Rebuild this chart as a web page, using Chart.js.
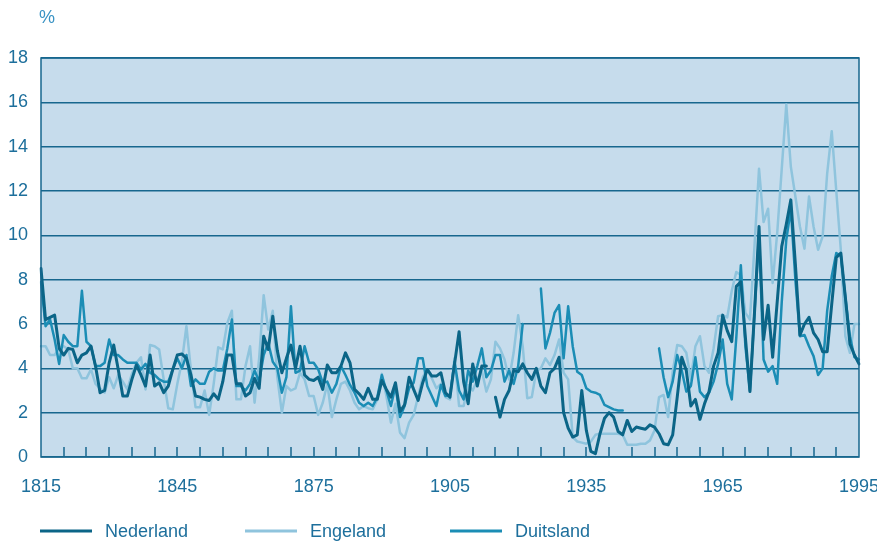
<!DOCTYPE html>
<html lang="nl">
<head>
  <meta charset="UTF-8">
  <title>Rente 1815-1995</title>
  <style>
    body {
      margin: 0;
      padding: 0;
      background: #ffffff;
    }
    #wrap {
      width: 877px;
      height: 542px;
    }
  </style>
</head>
<body>
  <div id="wrap">
    <canvas id="grafiek" width="877" height="542"></canvas>
  </div>

  <script src="https://cdn.jsdelivr.net/npm/chart.js"></script>
  <script>
    // jaren 1815 t/m 1995
    const jaren = [];
    for (let j = 1815; j <= 1995; j++) jaren.push(j);

    const yTicks = [0, 2, 4, 6, 8, 10, 12, 14, 16, 18];
    const xLabels = [1815, 1845, 1875, 1905, 1935, 1965, 1995];

    const nederland = [
      8.5, 6.2, 6.3, 6.4, 4.9, 4.6, 4.9, 4.85, 4.25, 4.6,
      4.7, 5.0, 4.1, 2.9, 3.0, 4.25, 5.05, 3.95, 2.75, 2.75,
      3.5, 4.15, 3.7, 3.2, 4.6, 3.2, 3.35, 2.9, 3.2, 3.95,
      4.6, 4.65, 4.45, 3.7, 2.75, 2.7, 2.6, 2.55, 2.85, 2.6,
      3.4, 4.6, 4.6, 3.3, 3.3, 2.75, 2.9, 3.55, 3.1, 5.45,
      4.85, 6.35, 4.8, 3.8, 4.45, 5.05, 4.0, 5.0, 3.7, 3.5,
      3.45, 3.6, 3.05, 4.15, 3.8, 3.8, 4.1, 4.7, 4.25, 3.05,
      2.85, 2.6, 3.1, 2.6, 2.6, 3.45, 3.05, 2.7, 3.35, 2.05,
      2.35, 3.6, 3.05, 2.55, 3.35, 3.95, 3.65, 3.65, 3.8, 2.9,
      2.7, 4.2, 5.65, 3.4, 2.4, 4.2, 3.2, 4.1, 4.1, null,
      2.7, 1.8, 2.6, 3.0, 3.9, 3.85, 4.2, 3.8, 3.5, 4.0,
      3.2, 2.9, 3.8, 4.0, 4.5, 2.0, 1.3, 0.9, 1.0, 3.0,
      1.2, 0.25, 0.15, 1.05, 1.75, 2.0, 1.8, 1.15, 1.0, 1.65,
      1.15, 1.35, 1.3, 1.25, 1.45, 1.35, 1.05, 0.6, 0.55, 1.0,
      2.7, 4.5, 3.9, 2.3, 2.6, 1.7, 2.4, 2.95, 4.1, 4.7,
      6.4, 5.7, 5.2, 7.7, 7.9, 5.4, 2.95, 6.5, 10.4, 5.3,
      6.85, 4.5, 7.0, 9.5, 10.5, 11.6, 8.7, 5.5, 6.0, 6.3,
      5.6, 5.3, 4.75, 4.75, 6.9, 9.0, 9.2, 7.2, 5.1, 4.6,
      4.2
    ];

    const engeland = [
      5.0, 5.0, 4.6, 4.6, 4.9, 5.0, 4.85, 4.0, 4.0, 3.55,
      3.55, 3.95, 3.3, 3.1, 2.9, 3.6, 3.1, 3.7, 3.4, 3.05,
      3.75, 4.25, 4.5, 3.05, 5.05, 5.0, 4.85, 3.5, 2.2, 2.15,
      3.3, 4.3, 5.9, 3.9, 2.25, 2.25, 3.0, 1.9, 3.3, 4.95,
      4.85, 6.05, 6.6, 2.6, 2.6, 4.1, 5.0, 2.45, 4.45, 7.3,
      5.75, 6.6, 3.6, 2.0, 3.2, 3.0, 3.1, 3.8, 3.5, 2.75,
      2.75, 1.9, 2.45, 3.3, 1.8, 2.6, 3.3, 3.4, 3.0, 2.45,
      2.15, 2.3, 2.2, 2.15, 2.6, 3.75, 2.75, 1.55, 2.4, 1.1,
      0.85, 1.55, 1.9, 2.75, 3.6, 3.95, 3.55, 3.1, 3.3, 2.7,
      2.6, 4.45, 2.3, 2.3, 3.25, 3.0, 3.5, 3.9, 2.95, 3.5,
      5.2, 4.9, 4.4, 3.5, 4.7, 6.4, 5.0, 2.65, 2.7, 3.9,
      4.0, 4.45, 4.15, 4.6, 5.3, 3.8, 3.5, 0.9, 0.7, 0.65,
      0.6, 0.7, 1.0, 1.05, 1.05, 1.05, 1.05, 1.05, 1.0, 0.55,
      0.55, 0.55, 0.6, 0.6, 0.75, 1.2, 2.7, 2.8, 1.8, 3.85,
      5.05, 5.0, 4.7, 3.5, 5.0, 5.45, 4.1, 3.8, 4.9, 6.35,
      6.4, 6.3, 7.5, 8.35, 8.2, 6.5, 6.2, 9.5, 13.0, 10.6,
      11.2, 7.85, 10.1, 13.0, 15.9, 13.1, 11.75, 10.4, 9.4, 11.75,
      10.4, 9.35, 9.95, 12.8, 14.7, 12.0, 9.35, 5.45, 4.7, 6.0,
      6.0
    ];

    const duitsland = [
      7.9, 5.9, 6.2, 5.3, 4.2, 5.5, 5.2, 5.0, 5.0, 7.5,
      5.2, 5.0, 4.1, 4.1, 4.25, 5.3, 4.6, 4.6, 4.4, 4.25,
      4.25, 4.25, 3.95, 4.2, 3.8, 3.7, 3.5, 3.4, 3.4, 3.95,
      4.45, 4.0, 4.6, 3.2, 3.5, 3.3, 3.3, 3.85, 4.0, 3.9,
      3.9, 4.9, 6.2, 3.2, 3.2, 3.0, 3.3, 3.9, 3.4, 4.6,
      5.15, 4.3, 4.0, 2.9, 3.6, 6.8, 3.8, 3.9, 5.0, 4.25,
      4.25, 3.95, 3.35, 3.4, 2.9, 3.3, 4.1, 3.7, 3.25, 2.9,
      2.45, 2.3, 2.45, 2.3, 2.7, 3.7, 3.0, 2.3, 3.2, 1.8,
      2.3, 3.1, 3.35, 4.45, 4.45, 3.2, 2.75, 2.3, 3.25, 2.75,
      2.8, 4.3, 3.0, 2.6, 3.9, 3.4, 4.1, 4.9, 3.6, 3.9,
      4.6, 4.6, 3.4, 3.9, 3.3, 4.1, 6.0, null, null, null,
      7.6, 4.9, 5.6, 6.5, 6.85, 4.45, 6.8, 5.0, 3.85, 3.7,
      3.1, 2.95, 2.9, 2.8, 2.35, 2.25, 2.15, 2.1, 2.1, null,
      null, null, null, null, null, null, 4.9, 3.6, 2.7, 3.4,
      4.6, 3.9, 2.95, 3.2, 4.5, 2.95, 2.7, 2.9, 3.4, 4.2,
      5.3, 3.3, 2.6, 5.4, 8.65, 5.0, 3.0, 6.5, 10.0, 4.4,
      3.85, 4.1, 3.3, 7.0, 9.8, 11.2, 8.0, 5.45, 5.5, 5.0,
      4.55, 3.7, 4.0, 6.6, 8.15, 9.2, 9.1, 7.2, 5.45, 4.5,
      4.4
    ];

    const kleurNL = '#0b6587';
    const kleurEN = '#8fc4dd';
    const kleurDU = '#1b8db5';
    const lijnKleur = '#17678e';
    const tekstKleur = '#1d6f9c';
    const vlak = '#c6dcec';

    Chart.defaults.font.family = "'Liberation Sans', Arial, sans-serif";
    Chart.defaults.font.size = 18;
    Chart.defaults.color = tekstKleur;

    // achtergrond, kader, streepjes onderaan, % en legenda
    const opmaak = {
      id: 'opmaak',
      beforeDraw(chart) {
        const { ctx, chartArea: a } = chart;
        ctx.save();
        ctx.fillStyle = vlak;
        ctx.fillRect(a.left, a.top, a.right - a.left, a.bottom - a.top);
        ctx.restore();
      },
      afterDatasetsDraw(chart) {
        const { ctx, chartArea: a } = chart;
        const x = chart.scales.x;
        ctx.save();
        ctx.strokeStyle = lijnKleur;
        ctx.lineWidth = 1.5;
        ctx.strokeRect(a.left, a.top, a.right - a.left, a.bottom - a.top);

        // kleine streepjes om de 5 jaar, naar binnen
        const n = jaren.length - 1;
        ctx.beginPath();
        for (let i = 5; i < n; i += 5) {
          const px = Math.round(x.getPixelForDecimal(i / n));
          ctx.moveTo(px, a.bottom);
          ctx.lineTo(px, a.bottom - 10);
        }
        ctx.stroke();

        ctx.fillStyle = '#3a93c4';
        ctx.font = "18px 'Liberation Sans', Arial, sans-serif";
        ctx.textBaseline = 'middle';
        ctx.textAlign = 'left';
        ctx.fillText('%', 39, 18);

        // legenda
        const items = chart.data.datasets;
        const startX = [40, 245, 450];
        const ly = 531;
        items.forEach((ds, i) => {
          ctx.strokeStyle = ds.borderColor;
          ctx.lineWidth = 3;
          ctx.beginPath();
          ctx.moveTo(startX[i], ly);
          ctx.lineTo(startX[i] + 52, ly);
          ctx.stroke();
          ctx.fillStyle = tekstKleur;
          ctx.fillText(ds.label, startX[i] + 65, ly + 1);
        });
        ctx.restore();
      }
    };

    const ctx = document.getElementById('grafiek').getContext('2d');
    new Chart(ctx, {
      type: 'line',
      data: {
        labels: jaren,
        datasets: [
          { label: 'Nederland', data: nederland, borderColor: kleurNL, borderWidth: 3, order: 0 },
          { label: 'Engeland', data: engeland, borderColor: kleurEN, borderWidth: 2.5, order: 2 },
          { label: 'Duitsland', data: duitsland, borderColor: kleurDU, borderWidth: 2.5, order: 1 }
        ]
      },
      options: {
        responsive: false,
        animation: false,
        spanGaps: false,
        elements: {
          point: { radius: 0 },
          line: { tension: 0, borderJoinStyle: 'round', borderCapStyle: 'round' }
        },
        layout: {
          padding: { left: 0, right: 18, top: 58, bottom: 45 }
        },
        plugins: {
          legend: { display: false },
          tooltip: { enabled: false }
        },
        scales: {
          x: {
            type: 'category',
            offset: false,
            grid: { display: false },
            border: { display: false },
            ticks: {
              autoSkip: false,
              maxRotation: 0,
              padding: 11,
              callback: function (val) {
                const j = jaren[val];
                return xLabels.includes(j) ? String(j) : null;
              }
            },
            afterFit(s) {
              s.height = 40;
              s.paddingLeft = 0;
              s.paddingRight = 0;
            }
          },
          y: {
            min: 0,
            max: 18,
            grid: { color: lijnKleur, lineWidth: 1.5, drawTicks: false },
            border: { display: false },
            afterBuildTicks(s) {
              s.ticks = yTicks.map(v => ({ value: v }));
            },
            ticks: {
              padding: 13,
              callback: v => String(v)
            },
            afterFit(s) {
              s.width = 41;
              s.paddingTop = 0;
              s.paddingBottom = 0;
            }
          }
        }
      },
      plugins: [opmaak]
    });
  </script>
</body>
</html>
